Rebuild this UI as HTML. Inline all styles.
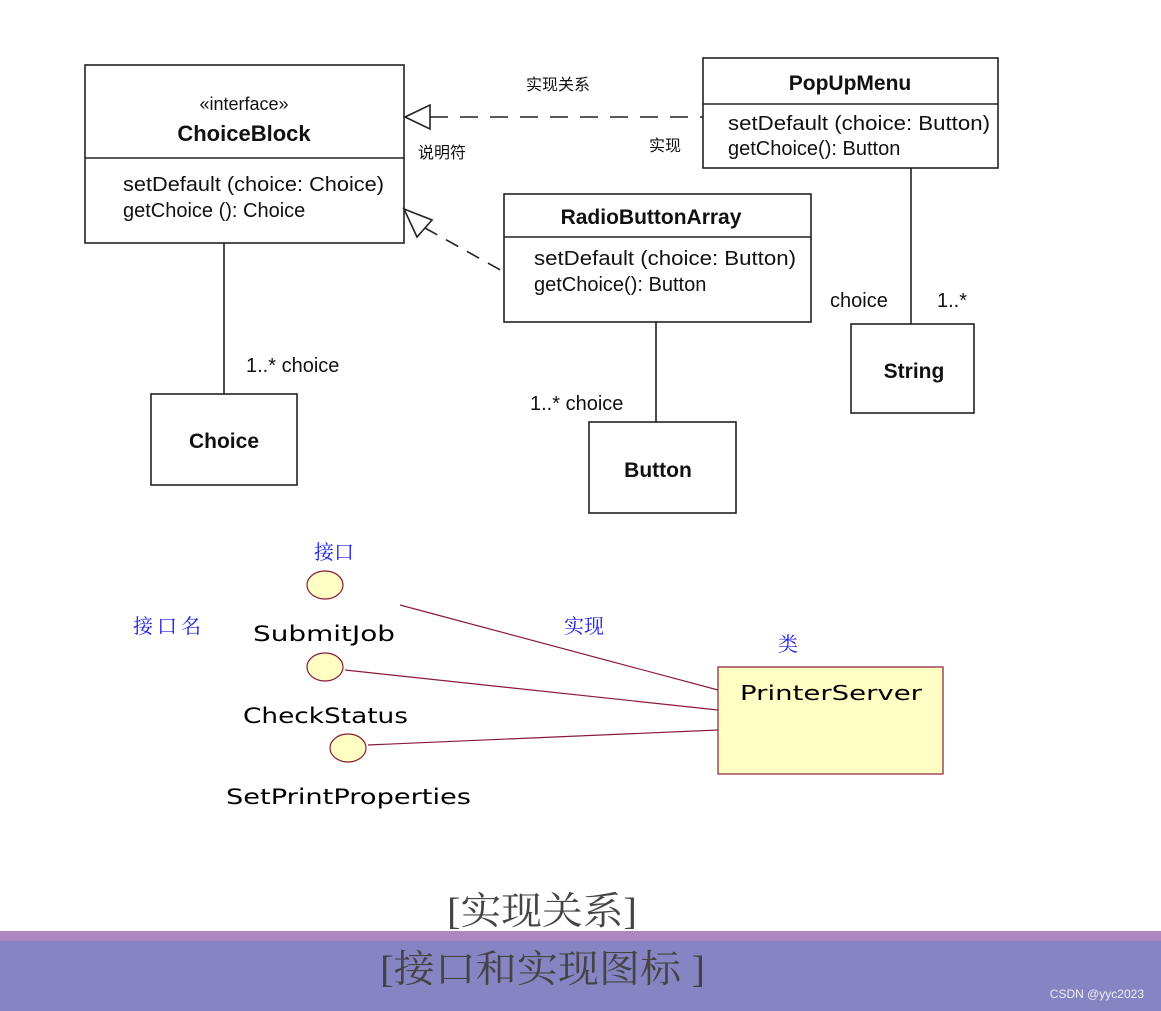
<!DOCTYPE html>
<html><head><meta charset="utf-8"><style>
body{margin:0;width:1161px;height:1011px;background:#fff;overflow:hidden;position:relative;font-family:"Liberation Sans","Noto Sans CJK SC",sans-serif}
svg{position:absolute;left:0;top:0}
</style></head><body>
<svg width="1161" height="1011" viewBox="0 0 1161 1011" font-family="Liberation Sans, Noto Sans CJK SC, sans-serif">
<g stroke="#222" stroke-width="1.6" fill="none">
<rect x="85" y="65" width="319" height="178"/><line x1="85" y1="158" x2="404" y2="158"/>
<rect x="703" y="58" width="295" height="110"/><line x1="703" y1="104" x2="998" y2="104"/>
<rect x="504" y="194" width="307" height="128"/><line x1="504" y1="237" x2="811" y2="237"/>
<rect x="151" y="394" width="146" height="91"/>
<rect x="589" y="422" width="147" height="91"/>
<rect x="851" y="324" width="123" height="89"/>
<line x1="224" y1="243" x2="224" y2="394"/>
<line x1="656" y1="322" x2="656" y2="422"/>
<line x1="911" y1="168" x2="911" y2="324"/>
<line x1="430" y1="117" x2="703" y2="117" stroke-dasharray="18,12"/>
<path d="M405 117 L430 105 L430 129 Z"/>
<line x1="425" y1="228" x2="504" y2="272" stroke-dasharray="14,10"/>
<path d="M404 209 L432 220 L417 237 Z"/>
</g>
<g fill="#111" font-size="20">
<text x="244" y="110" text-anchor="middle" font-size="18">«interface»</text>
<text x="244" y="141" text-anchor="middle" font-weight="bold" font-size="22">ChoiceBlock</text>
<text x="123" y="191" textLength="261" lengthAdjust="spacingAndGlyphs">setDefault (choice: Choice)</text>
<text x="123" y="217">getChoice (): Choice</text>
<text x="850" y="90" text-anchor="middle" font-weight="bold" font-size="21">PopUpMenu</text>
<text x="728" y="130" textLength="262" lengthAdjust="spacingAndGlyphs">setDefault (choice: Button)</text>
<text x="728" y="155">getChoice(): Button</text>
<text x="651" y="224" text-anchor="middle" font-weight="bold" font-size="21">RadioButtonArray</text>
<text x="534" y="265" textLength="262" lengthAdjust="spacingAndGlyphs">setDefault (choice: Button)</text>
<text x="534" y="291">getChoice(): Button</text>
<text x="224" y="448" text-anchor="middle" font-weight="bold" font-size="21">Choice</text>
<text x="658" y="477" text-anchor="middle" font-weight="bold" font-size="21">Button</text>
<text x="914" y="378" text-anchor="middle" font-weight="bold" font-size="21">String</text>
<text x="246" y="372">1..* choice</text>
<text x="530" y="410">1..* choice</text>
<text x="830" y="307">choice</text>
<text x="937" y="307">1..*</text>
<text x="526" y="90" font-size="16">实现关系</text>
<text x="418" y="158" font-size="16">说明符</text>
<text x="649" y="151" font-size="16">实现</text>
</g>
<g stroke="#8b1a3a" stroke-width="1.2" fill="none">
<line x1="400" y1="605" x2="718" y2="690"/>
<line x1="345" y1="670" x2="718" y2="710"/>
<line x1="368" y1="745" x2="718" y2="730"/>
</g>
<g stroke="#8b1a3a" stroke-width="1.2" fill="#ffffc4">
<ellipse cx="325" cy="585" rx="18" ry="14"/>
<ellipse cx="325" cy="667" rx="18" ry="14"/>
<ellipse cx="348" cy="748" rx="18" ry="14"/>
<rect x="718" y="667" width="225" height="107"/>
</g>
<g fill="#000" font-size="21" font-family="DejaVu Sans, sans-serif">
<text x="740" y="700" font-size="20" textLength="182" lengthAdjust="spacingAndGlyphs">PrinterServer</text>
<text x="253" y="641" textLength="142" lengthAdjust="spacingAndGlyphs">SubmitJob</text>
<text x="243" y="723" textLength="165" lengthAdjust="spacingAndGlyphs">CheckStatus</text>
<text x="226" y="804" textLength="245" lengthAdjust="spacingAndGlyphs">SetPrintProperties</text>
</g>
<g fill="#1a1ae6" font-size="20" font-family="Noto Serif CJK SC, serif">
<text x="314" y="559">接口</text>
<text x="133" y="633" letter-spacing="4">接口名</text>
<text x="564" y="633">实现</text>
<text x="778" y="651">类</text>
</g>
<rect x="0" y="931" width="1161" height="10" fill="#ad86c4"/>
<rect x="0" y="941" width="1161" height="70" fill="#8784c4"/>
<text x="447" y="924" font-size="38" fill="#444" font-family="Liberation Serif, Noto Serif CJK SC, serif" textLength="190" lengthAdjust="spacingAndGlyphs">[实现关系]</text>
<text x="380" y="982" font-size="38" fill="#444" font-family="Liberation Serif, Noto Serif CJK SC, serif" textLength="325" lengthAdjust="spacingAndGlyphs">[接口和实现图标 ]</text>
<text x="1144" y="998" text-anchor="end" font-size="12" fill="#eee">CSDN @yyc2023</text>
</svg>
</body></html>
